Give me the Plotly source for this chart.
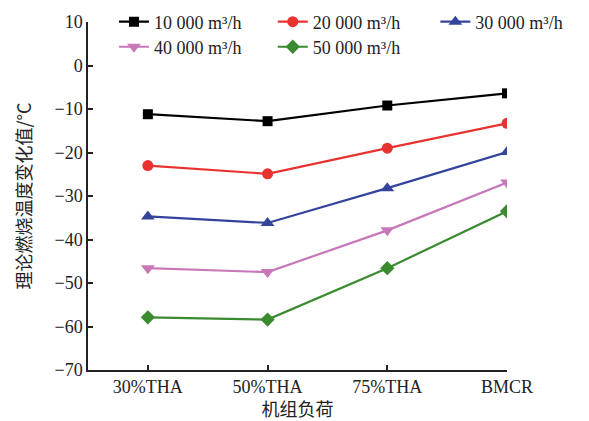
import plotly.graph_objects as go

categories = ["30%THA", "50%THA", "75%THA", "BMCR"]
series_names = ["10 000 m³/h", "20 000 m³/h", "30 000 m³/h", "40 000 m³/h", "50 000 m³/h"]
v10000 = [-11.2, -12.8, -9.2, -6.4]
v20000 = [-23.0, -24.9, -19.0, -13.3]
v30000 = [-34.7, -36.2, -28.2, -19.9]
v40000 = [-46.6, -47.5, -37.9, -26.9]
v50000 = [-57.9, -58.4, -46.6, -33.5]
y_ticks = [10, 0, -10, -20, -30, -40, -50, -60, -70]

values = [v10000, v20000, v30000, v40000, v50000]
colors = ["#000000", "#e8322f", "#34449c", "#c878b8", "#3a8a30"]
symbols = ["square", "circle", "triangle-up", "triangle-down", "diamond"]
sizes = [10, 11, 12, 12, 11]
legend_ids = ["legend", "legend2", "legend3", "legend4", "legend5"]
# legend anchor positions in paper coordinates
legend_pos = [(0.062, 1.0), (0.441, 1.0), (0.829, 1.0), (0.062, 0.928), (0.441, 0.928)]

serif = "Liberation Serif"
cjk = "Noto Sans CJK SC"
txt = "#222222"

fig = go.Figure()
for name, vals, c, s, sz, lg in zip(series_names, values, colors, symbols, sizes, legend_ids):
    fig.add_trace(go.Scatter(
        x=categories, y=vals, name=name, mode="lines+markers",
        line=dict(color=c, width=2.2),
        marker=dict(symbol=s, size=sz, color=c),
        legend=lg,
    ))

legends = {}
for lg, (lx, ly) in zip(legend_ids, legend_pos):
    legends[lg] = dict(
        x=lx, y=ly, xanchor="left", yanchor="middle",
        bgcolor="rgba(0,0,0,0)", borderwidth=0,
        font=dict(family=serif, size=18, color=txt),
        itemwidth=30,
    )

fig.update_layout(
    width=589, height=421,
    margin=dict(l=88, r=82, t=22, b=51, autoexpand=False),
    paper_bgcolor="white", plot_bgcolor="white",
    font=dict(family=serif, size=18, color=txt),
    showlegend=True,
    xaxis=dict(
        type="category", range=[-0.5, 3],
        showline=True, linecolor=txt, linewidth=1.5,
        ticks="inside", ticklen=5, tickcolor=txt, tickwidth=1.5,
        showgrid=False, zeroline=False, automargin=False,
        tickfont=dict(family=serif, size=18, color=txt),
        title=dict(text="机组负荷", font=dict(family=cjk, size=18, color=txt), standoff=6),
    ),
    yaxis=dict(
        range=[-70, 10], tickvals=y_ticks,
        showline=True, linecolor=txt, linewidth=1.5,
        ticks="inside", ticklen=5, tickcolor=txt, tickwidth=1.5,
        showgrid=False, zeroline=False, automargin=False,
        tickfont=dict(family=serif, size=18, color=txt),
        title=dict(text="理论燃烧温度变化值/°C", font=dict(family=cjk, size=18, color=txt), standoff=18),
    ),
    **legends,
)

fig.write_html("out.html")
